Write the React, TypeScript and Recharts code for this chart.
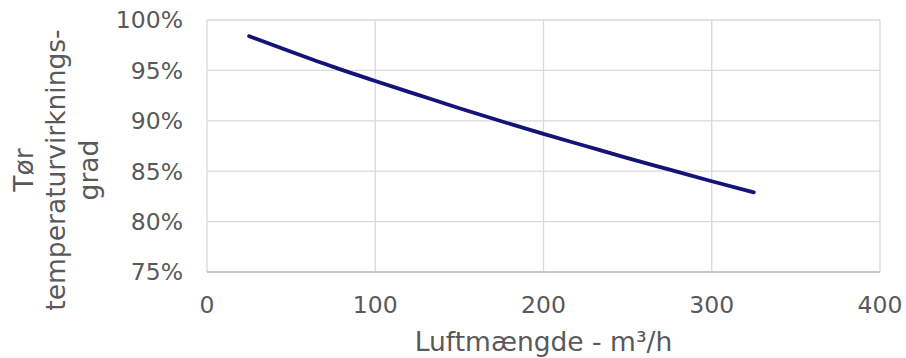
import React from 'react';
import { LineChart, Line, XAxis, YAxis, CartesianGrid } from 'recharts';

const airflow = [25, 50, 75, 100, 125, 150, 175, 200, 225, 250, 275, 300, 325];
const efficiency = [0.984, 0.9685, 0.9535, 0.9395, 0.926, 0.9125, 0.8995, 0.887, 0.875, 0.863, 0.8515, 0.840, 0.829];
const xTicks = [0, 100, 200, 300, 400];
const yTicks = [0.75, 0.8, 0.85, 0.9, 0.95, 1.0];
const xTitle = 'Luftmængde - m³/h';
const yTitleLines = ['Tør', 'temperaturvirknings-', 'grad'];

const data = airflow.map((x, i) => ({ x, y: efficiency[i] }));

const FONT = '"DejaVu Sans", Verdana, sans-serif';
const GRAY = '#595959';
const TICK_FS = 23.5;
const TITLE_FS = 26.5;

const XTick = (props: any) => {
  const { x, y, payload } = props;
  return (
    <text x={x} y={y + 41} textAnchor="middle" fill={GRAY} fontSize={TICK_FS} fontFamily={FONT}>
      {payload.value}
    </text>
  );
};

const YTick = (props: any) => {
  const { x, y, payload } = props;
  return (
    <text x={x - 24} y={y} dy="0.36em" textAnchor="end" fill={GRAY} fontSize={TICK_FS} fontFamily={FONT}>
      {`${Math.round(payload.value * 100)}%`}
    </text>
  );
};

const YTitle = () => {
  const cy = 170;
  const xs = [33, 65, 98];
  return (
    <g>
      {yTitleLines.map((t, i) => (
        <text
          key={i}
          x={xs[i]}
          y={cy}
          transform={`rotate(-90, ${xs[i]}, ${cy})`}
          textAnchor="middle"
          fill={GRAY}
          fontSize={TITLE_FS}
          fontFamily={FONT}
        >
          {t}
        </text>
      ))}
    </g>
  );
};

const XTitle = (props: any) => {
  const { viewBox } = props;
  const cx = viewBox.x + viewBox.width / 2;
  return (
    <text x={cx} y={351} textAnchor="middle" fill={GRAY} fontSize={TITLE_FS} fontFamily={FONT}>
      {xTitle}
    </text>
  );
};

export default function App() {
  return (
    <div style={{ position: 'absolute', left: 0, top: 0, background: '#fff' }}>
      <LineChart width={906} height={358} data={data} margin={{ top: 20, right: 26, bottom: 0, left: 0 }}>
        <CartesianGrid stroke="#d9d9d9" strokeWidth={1.3} />
        <XAxis
          dataKey="x"
          type="number"
          domain={[0, 400]}
          ticks={xTicks}
          height={86}
          tick={<XTick />}
          tickLine={false}
          tickSize={0}
          tickMargin={0}
          stroke="#bfbfbf"
          strokeWidth={1.3}
          label={<XTitle />}
          allowDataOverflow
        />
        <YAxis
          type="number"
          domain={[0.75, 1]}
          ticks={yTicks}
          width={207}
          tick={<YTick />}
          tickLine={false}
          axisLine={false}
          tickSize={0}
          tickMargin={0}
          label={<YTitle />}
          allowDataOverflow
        />
        <Line
          type="monotone"
          dataKey="y"
          stroke="#141478"
          strokeWidth={3.8}
          strokeLinecap="round"
          dot={false}
          isAnimationActive={false}
        />
      </LineChart>
    </div>
  );
}
